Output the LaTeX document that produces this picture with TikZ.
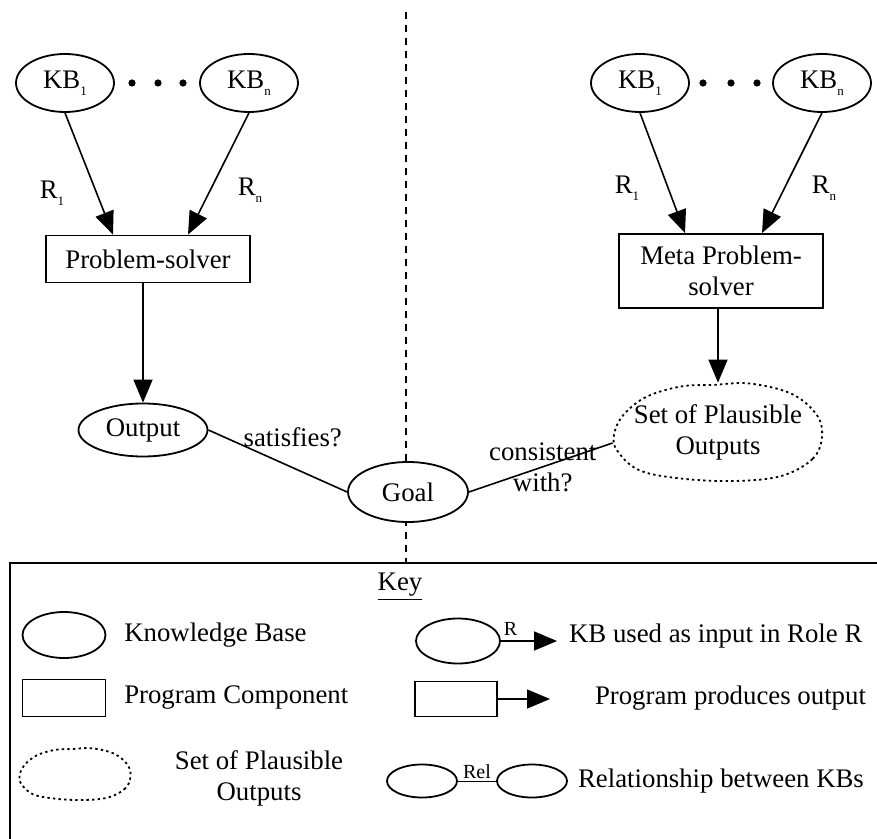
\documentclass[tikz,border=0pt]{standalone}
\usepackage{fontspec}
\setmainfont{Liberation Serif}
\usetikzlibrary{arrows.meta,shapes,positioning,calc}

\newcommand{\kbsub}[1]{\raisebox{-3.5pt}{\fontsize{6.5}{7}\selectfont #1}}
\newcommand{\plausiblecloud}[3]{%
  \draw[plausible, shift={#1}, xscale=#2, yscale=#3]
    plot[smooth cycle, tension=0.6] coordinates {(0.99,0.1) (0.9,0.55) (0.6,0.9) (0.15,1.0) (-0.35,0.95) (-0.75,0.78) (-0.96,0.38) (-0.99,0.05) (-0.9,-0.35) (-0.68,-0.72) (-0.35,-0.93) (-0.05,-0.96) (0.3,-0.99) (0.7,-0.78) (0.94,-0.35)};}

\begin{document}
\begin{tikzpicture}[x=0.5pt, y=-0.5pt, font=\fontsize{13.4}{15.5}\selectfont,
  kb/.style={ellipse, draw, line width=0.9pt, minimum width=49pt, minimum height=29pt, inner sep=0pt},
  solver/.style={rectangle, draw, line width=0.9pt, minimum width=102pt, align=center, inner sep=2pt},
  setbox/.style={rectangle, minimum width=105pt, minimum height=49pt, align=center, inner sep=0pt},
  role/.style={-{Triangle[length=11.5pt,width=9.5pt]}, line width=0.8pt},
  rel/.style={line width=0.8pt},
  plausible/.style={line width=0.9pt, dash pattern=on 1.2pt off 1.6pt},
  small/.style={font=\fontsize{10}{12}\selectfont, inner sep=1pt}]

\useasboundingbox (0,0) rectangle (877,839);

% divider
\coordinate (divtop) at (406,12);
\coordinate (divbot) at (406,563);
\draw[line width=1pt, dash pattern=on 3.5pt off 3pt] (divtop) -- (divbot);

% problem-solver
\node[kb] (kb1L) at (65,83) {KB\kbsub{1}};
\node[kb] (kbnL) at (249,83) {KB\kbsub{n}};
\foreach \x in {132,158,183} \fill (\x,83) circle (1.8pt);
\node[solver, minimum height=23.5pt] (ps) at (148,259) {Problem-solver};
\node[kb, minimum width=64.5pt, minimum height=26.5pt] (out) at (143,430) {Output};
\node (r1L) at (52,193) {R\kbsub{1}};
\node (rnL) at (250,190) {R\kbsub{n}};

% meta problem-solver
\node[kb] (kb1R) at (640,83) {KB\kbsub{1}};
\node[kb] (kbnR) at (822,83) {KB\kbsub{n}};
\foreach \x in {703,731,757} \fill (\x,83) circle (1.8pt);
\node[solver, minimum height=37pt] (meta) at (721,271) {Meta Problem-\\solver};
\node[setbox] (set) at (718,432) {Set of Plausible\\Outputs};
\plausiblecloud{(718,432)}{105}{49}
\node (r1R) at (627,188) {R\kbsub{1}};
\node (rnR) at (824,188) {R\kbsub{n}};

\node[kb, minimum width=60pt, minimum height=30pt, fill=white] (goal) at (408,492) {Goal};

\draw[role] (kb1L.south) -- ([xshift=-17.5pt]ps.north);
\draw[role] (kbnL.south) -- ([xshift=20pt]ps.north);
\draw[role] (ps.south -| out.north) -- (out.north);
\draw[role] (kb1R.south) -- ([xshift=-18pt]meta.north);
\draw[role] (kbnR.south) -- ([xshift=20.5pt]meta.north);
\draw[role] (meta.south -| set.north) -- (set.north);
\draw[rel] (out.east) -- node[xshift=7.5pt, yshift=12pt] {satisfies?} (goal.west);
\draw[rel] (goal.east) -- node[align=center, xshift=1pt] {consistent\\with?} ([yshift=-5.5pt]set.west);

% key
\coordinate (keyBL) at (10,839);
\coordinate (keyTL) at (10,563);
\coordinate (keyTR) at (877,563);
\draw[line width=1.2pt] (keyBL) -- (keyTL) -- (keyTR);
\node (key) at (400,587) {\underline{Key}};

\node[kb, minimum width=41.5pt, minimum height=23pt] (kbKey) at (64,635) {};
\node[right=5.4pt of kbKey] (kbTxt) {Knowledge Base};
\node[solver, minimum width=41.5pt, minimum height=18.5pt] (progKey) at (64,698) {};
\node[right=5.4pt of progKey] (progTxt) {Program Component};
\plausiblecloud{(75,774)}{56}{26}
\node[align=center] (plTxt) at (259,778) {Set of Plausible\\Outputs};

\node[kb, minimum width=42pt, minimum height=22.5pt] (kbRole) at (458,641) {};
\coordinate (roleEnd) at (557,641);
\draw[role] (kbRole.east) -- node[small, above=1.5pt, pos=0.17] {R} (roleEnd);
\node[anchor=west] (roleTxt) at (562,636) {KB used as input in Role R};

\node[solver, minimum width=41pt, minimum height=17.5pt] (progOut) at (456,699) {};
\coordinate (outEnd) at (550,699);
\draw[role] (progOut.east) -- (outEnd);
\node[anchor=east] (outTxt) at (873,698) {Program produces output};

\node[kb, minimum width=35pt, minimum height=16.5pt] (relA) at (422,781) {};
\node[kb, minimum width=35pt, minimum height=16.5pt] (relB) at (532,781) {};
\draw[line width=0.5pt] (relA) -- node[small, above] {Rel} (relB);
\node[anchor=west] (relTxt) at (571,781) {Relationship between KBs};
\end{tikzpicture}
\end{document}
